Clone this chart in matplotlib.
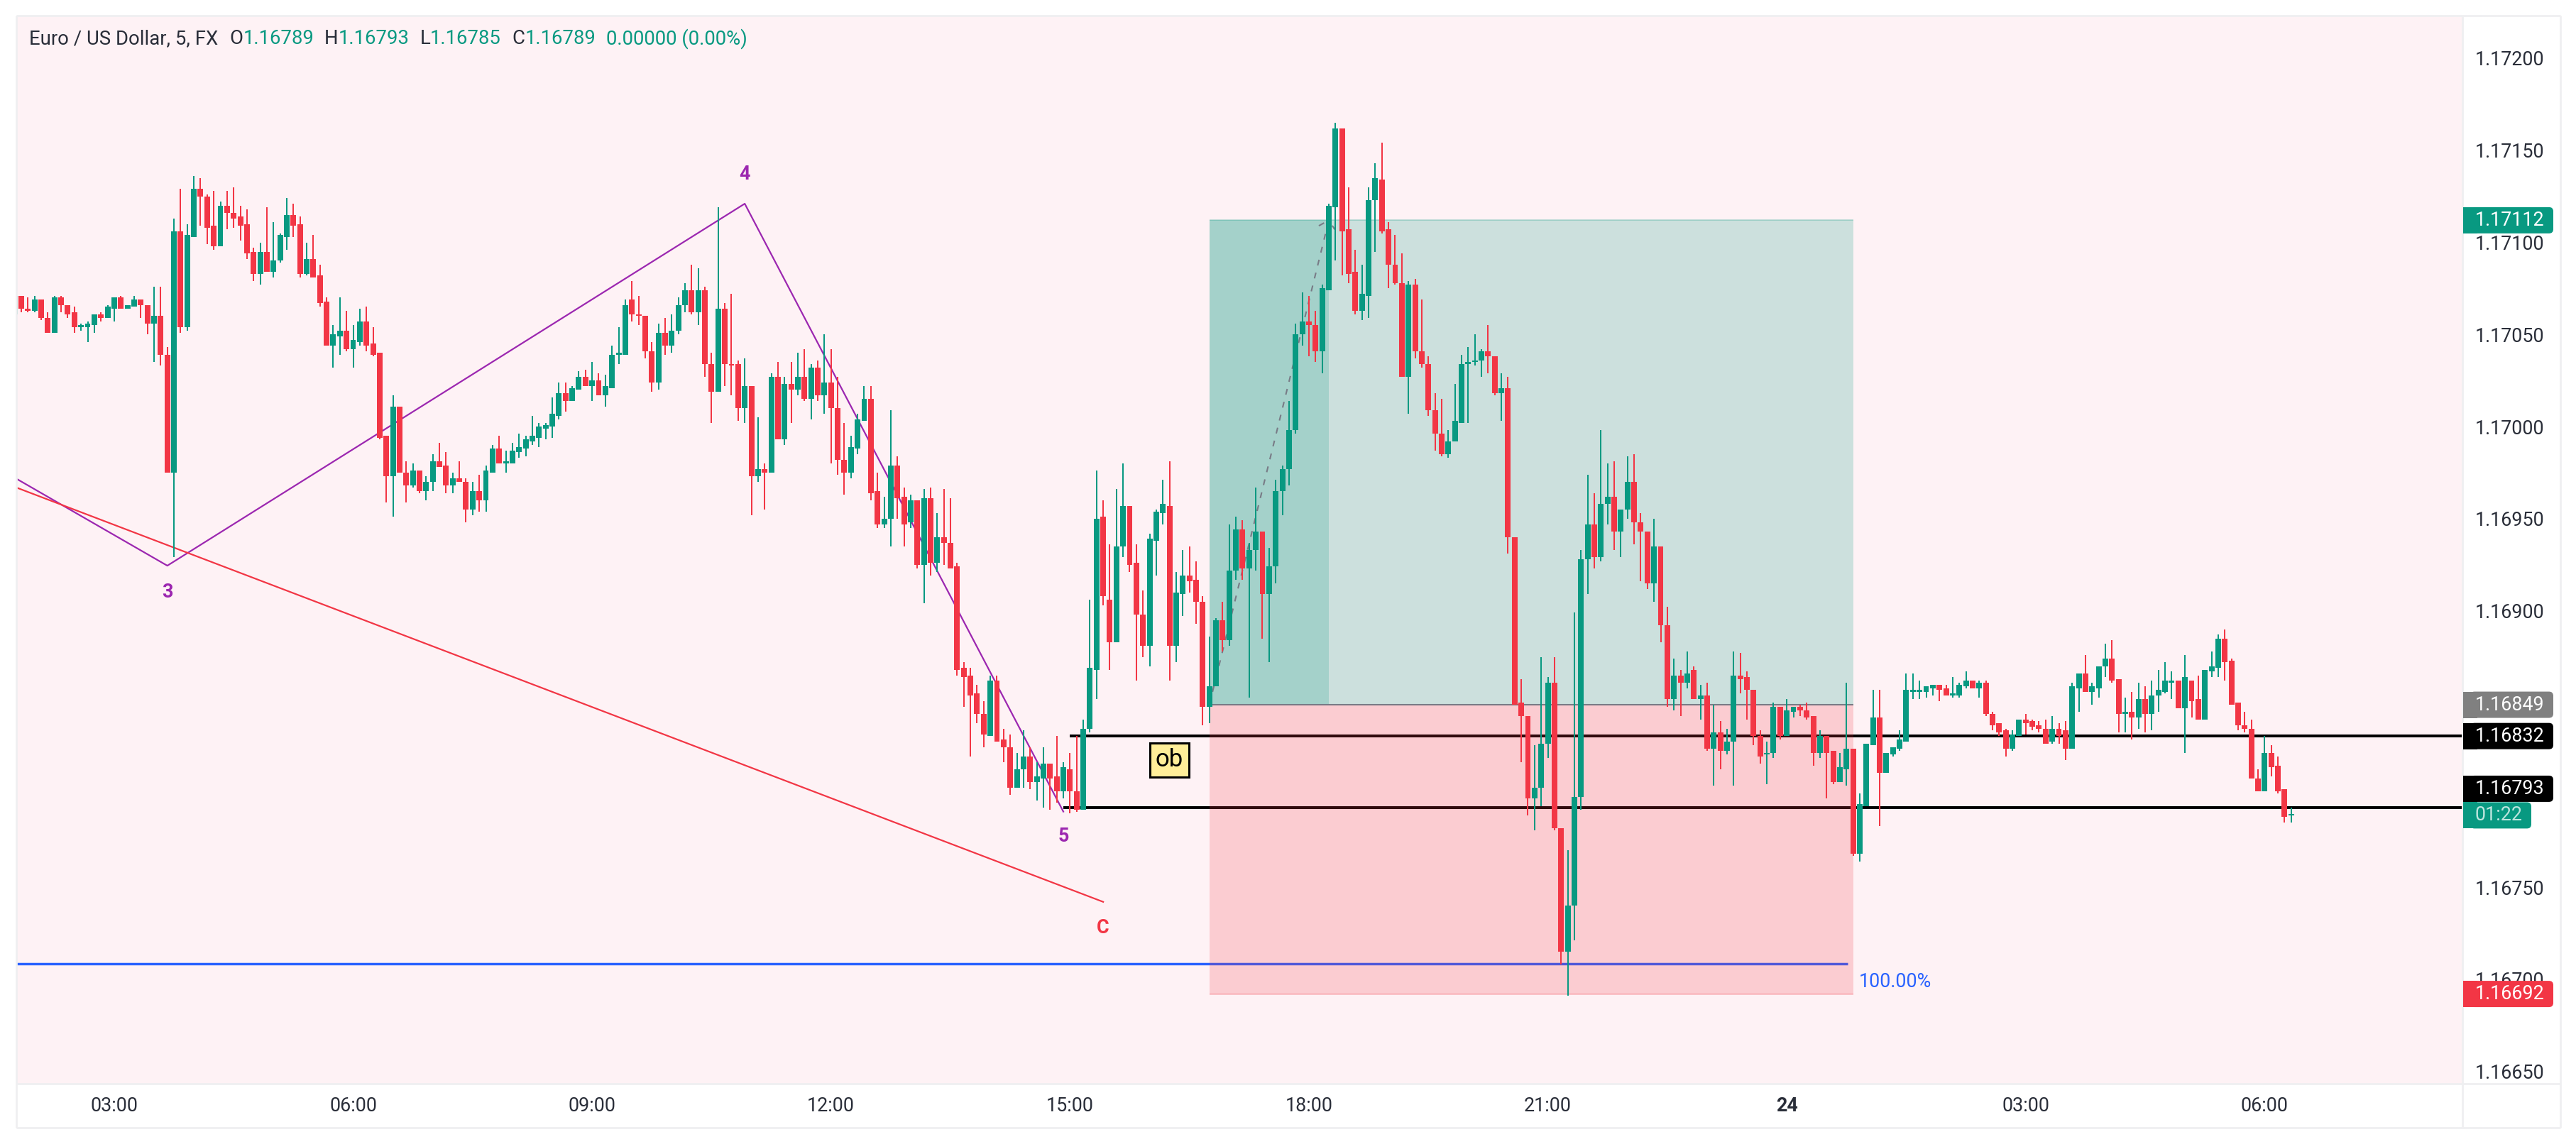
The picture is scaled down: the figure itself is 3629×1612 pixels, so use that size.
"""EUR/USD 5 minute candles with position tool and wave drawings."""

import matplotlib
matplotlib.use("Agg")
import matplotlib.pyplot as plt
import numpy as np
from matplotlib.patches import FancyBboxPatch, Rectangle

plt.rcParams["font.family"] = ["Roboto", "DejaVu Sans"]

# prices are stored as 1e-5 steps above 1.16000, so 1071 means 1.17071
opens = [
    1061, 1071, 1064, 1063, 1069, 1059, 1051, 1070, 1066, 1062,
    1054, 1054, 1055, 1061, 1059, 1064, 1070, 1064, 1065, 1069,
    1066, 1056, 1060, 1039, 975, 1106, 1054, 1103, 1129, 1125,
    1109, 1098, 1120, 1116, 1114, 1110, 1095, 1083, 1095, 1084,
    1090, 1103, 1115, 1110, 1083, 1091, 1082, 1068, 1044, 1049,
    1052, 1042, 1046, 1057, 1045, 1040, 995, 973, 1011, 975,
    968, 976, 965, 970, 981, 979, 968, 972, 970, 955,
    965, 960, 975, 988, 980, 980, 986, 988, 992, 994,
    999, 1000, 1006, 1018, 1014, 1020, 1027, 1022, 1025, 1017,
    1021, 1039, 1039, 1069, 1061, 1060, 1041, 1024, 1051, 1044,
    1052, 1066, 1074, 1062, 1074, 1034, 1019, 1064, 1034, 1034,
    1010, 1022, 973, 977, 975, 1027, 993, 1023, 1020, 1027,
    1015, 1032, 1017, 1024, 1010, 982, 975, 988, 1003, 1015,
    965, 947, 950, 979, 962, 948, 960, 925, 961, 926,
    940, 937, 924, 869, 865, 855, 844, 832, 862, 830,
    826, 804, 814, 821, 807, 809, 817, 810, 802, 814,
    802, 792, 836, 868, 951, 906, 883, 935, 957, 926,
    898, 881, 938, 953, 957, 881, 909, 919, 917, 905,
    848, 859, 895, 884, 922, 944, 923, 933, 943, 909,
    924, 965, 977, 998, 1050, 1057, 1055, 1041, 1074, 1119,
    1162, 1107, 1084, 1063, 1071, 1123, 1134, 1107, 1088, 1078,
    1027, 1077, 1041, 1034, 1009, 996, 985, 992, 1002, 1034,
    1035, 1036, 1041, 1038, 1018, 1021, 940, 850, 843, 798,
    804, 828, 861, 782, 715, 740, 799, 928, 947, 929,
    958, 962, 943, 955, 970, 948, 943, 915, 935, 892,
    852, 865, 861, 868, 852, 854, 825, 834, 824, 829,
    865, 864, 857, 832, 822, 823, 848, 832, 845, 848,
    846, 843, 823, 832, 824, 807, 814, 825, 768, 794,
    827, 842, 812, 822, 825, 829, 856, 856, 856, 858,
    860, 858, 854, 854, 859, 862, 858, 861, 844, 839,
    835, 825, 832, 841, 840, 838, 836, 829, 836, 835,
    825, 858, 866, 856, 858, 870, 874, 863, 844, 845,
    842, 852, 844, 854, 856, 861, 862, 847, 862, 852,
    841, 867, 869, 885, 873, 850, 838, 836, 809, 802,
    823, 816, 803, 789,
]
highs = [
    1071, 1071, 1070, 1071, 1069, 1062, 1071, 1071, 1066, 1065,
    1056, 1057, 1061, 1062, 1066, 1070, 1071, 1066, 1071, 1069,
    1066, 1076, 1076, 1043, 1113, 1129, 1110, 1136, 1135, 1126,
    1128, 1122, 1128, 1130, 1120, 1118, 1097, 1100, 1119, 1111,
    1105, 1124, 1121, 1114, 1100, 1104, 1088, 1070, 1055, 1070,
    1063, 1055, 1064, 1065, 1054, 1040, 995, 1017, 1011, 981,
    980, 976, 973, 985, 991, 986, 975, 981, 972, 970,
    974, 979, 990, 995, 987, 991, 996, 995, 1006, 1002,
    1002, 1016, 1024, 1024, 1022, 1030, 1031, 1035, 1029, 1028,
    1044, 1054, 1069, 1079, 1071, 1060, 1046, 1056, 1059, 1061,
    1070, 1078, 1088, 1086, 1076, 1040, 1119, 1067, 1072, 1036,
    1037, 1022, 1005, 980, 1029, 1035, 1027, 1035, 1040, 1042,
    1034, 1036, 1050, 1042, 1027, 1002, 995, 1007, 1022, 1022,
    975, 962, 1009, 984, 967, 963, 960, 966, 967, 953,
    966, 961, 926, 872, 869, 860, 851, 865, 865, 836,
    833, 823, 835, 826, 818, 826, 817, 832, 818, 823,
    832, 841, 906, 976, 960, 936, 966, 980, 957, 936,
    911, 942, 955, 971, 981, 921, 933, 935, 927, 908,
    886, 896, 905, 947, 951, 949, 937, 967, 943, 934,
    971, 979, 1014, 1056, 1073, 1071, 1063, 1077, 1121, 1165,
    1162, 1130, 1096, 1088, 1130, 1143, 1154, 1111, 1104, 1094,
    1079, 1080, 1069, 1038, 1018, 1015, 998, 1023, 1039, 1043,
    1050, 1042, 1055, 1038, 1029, 1027, 940, 863, 843, 827,
    875, 864, 875, 782, 770, 899, 933, 974, 964, 998,
    980, 981, 955, 984, 985, 953, 943, 950, 935, 902,
    874, 868, 878, 870, 860, 861, 849, 840, 836, 878,
    877, 867, 857, 835, 829, 850, 848, 852, 848, 849,
    850, 843, 835, 832, 824, 823, 861, 825, 801, 828,
    857, 857, 823, 826, 835, 866, 866, 862, 859, 860,
    860, 860, 864, 861, 867, 862, 862, 862, 845, 839,
    836, 835, 841, 844, 841, 840, 841, 843, 839, 840,
    861, 866, 876, 861, 870, 882, 884, 863, 853, 856,
    861, 859, 862, 868, 872, 867, 862, 876, 862, 865,
    868, 878, 887, 890, 874, 850, 845, 841, 814, 832,
    827, 821, 803, 793,
]
lows = [
    1061, 1062, 1062, 1062, 1058, 1051, 1051, 1062, 1059, 1051,
    1052, 1046, 1051, 1057, 1059, 1057, 1064, 1064, 1065, 1059,
    1050, 1035, 1033, 975, 929, 1051, 1052, 1103, 1109, 1099,
    1096, 1098, 1107, 1108, 1101, 1091, 1079, 1077, 1084, 1081,
    1089, 1096, 1103, 1081, 1082, 1081, 1065, 1044, 1032, 1039,
    1041, 1032, 1044, 1041, 1038, 993, 959, 951, 975, 959,
    967, 964, 960, 965, 978, 964, 964, 970, 948, 952,
    954, 954, 975, 980, 975, 980, 983, 984, 990, 989,
    993, 994, 1004, 1008, 1014, 1020, 1022, 1014, 1017, 1011,
    1021, 1034, 1039, 1057, 1055, 1037, 1019, 1020, 1039, 1040,
    1050, 1062, 1061, 1055, 1027, 1002, 1019, 1022, 1017, 1003,
    1002, 952, 970, 955, 975, 993, 990, 1002, 1017, 1014,
    1004, 1014, 1007, 980, 974, 963, 972, 985, 1003, 960,
    945, 945, 935, 950, 935, 945, 923, 904, 919, 921,
    925, 923, 865, 848, 821, 839, 826, 832, 829, 818,
    800, 804, 804, 803, 797, 793, 792, 796, 798, 790,
    791, 792, 834, 852, 903, 868, 883, 929, 921, 862,
    875, 870, 919, 947, 862, 872, 897, 910, 893, 838,
    839, 859, 878, 881, 917, 917, 853, 922, 885, 872,
    915, 952, 968, 996, 1044, 1038, 1035, 1029, 1074, 1090,
    1082, 1078, 1061, 1058, 1059, 1095, 1105, 1075, 1077, 1027,
    1007, 1037, 1032, 1006, 987, 984, 983, 992, 1002, 1002,
    1033, 1027, 1029, 1017, 1003, 931, 849, 818, 789, 781,
    794, 820, 781, 708, 691, 721, 792, 909, 923, 927,
    947, 933, 929, 950, 936, 916, 912, 905, 883, 848,
    846, 843, 858, 852, 841, 824, 805, 814, 822, 805,
    855, 841, 827, 817, 806, 820, 830, 832, 842, 843,
    841, 816, 820, 798, 806, 807, 805, 767, 764, 794,
    827, 783, 812, 821, 824, 829, 852, 852, 853, 854,
    851, 854, 853, 853, 858, 858, 853, 843, 835, 832,
    821, 824, 832, 833, 835, 834, 828, 828, 828, 819,
    825, 845, 856, 849, 853, 864, 861, 834, 834, 830,
    836, 834, 835, 845, 855, 852, 847, 823, 842, 841,
    841, 864, 864, 862, 849, 835, 834, 809, 802, 802,
    810, 801, 785, 785,
]
closes = [
    1071, 1064, 1063, 1069, 1059, 1051, 1070, 1066, 1061, 1054,
    1055, 1056, 1061, 1059, 1065, 1070, 1064, 1066, 1069, 1066,
    1056, 1060, 1039, 975, 1106, 1054, 1104, 1129, 1125, 1108,
    1098, 1120, 1116, 1113, 1109, 1094, 1083, 1095, 1084, 1090,
    1104, 1115, 1109, 1083, 1091, 1081, 1067, 1044, 1050, 1052,
    1042, 1047, 1057, 1044, 1039, 994, 973, 1011, 975, 968,
    976, 965, 970, 981, 978, 968, 972, 970, 955, 965,
    960, 976, 988, 980, 981, 987, 989, 993, 995, 1000,
    1001, 1007, 1018, 1014, 1021, 1027, 1022, 1025, 1017, 1022,
    1039, 1040, 1066, 1061, 1060, 1041, 1024, 1051, 1044, 1052,
    1066, 1074, 1062, 1074, 1034, 1019, 1064, 1034, 1033, 1010,
    1022, 973, 977, 975, 1027, 993, 1023, 1020, 1027, 1015,
    1032, 1017, 1024, 1010, 982, 975, 989, 1004, 1015, 964,
    947, 950, 979, 961, 947, 960, 925, 961, 926, 940,
    937, 923, 868, 864, 854, 844, 833, 862, 829, 826,
    804, 814, 821, 807, 810, 817, 809, 802, 815, 802,
    792, 836, 869, 950, 908, 883, 935, 957, 925, 898,
    881, 939, 954, 958, 881, 910, 919, 916, 905, 848,
    859, 895, 884, 922, 944, 923, 933, 943, 909, 924,
    965, 977, 998, 1050, 1057, 1055, 1041, 1075, 1120, 1162,
    1106, 1083, 1063, 1072, 1123, 1135, 1106, 1088, 1078, 1027,
    1077, 1041, 1034, 1009, 996, 985, 992, 1003, 1034, 1035,
    1036, 1041, 1038, 1018, 1021, 940, 849, 843, 798, 804,
    828, 861, 782, 715, 740, 799, 928, 947, 929, 958,
    962, 943, 955, 970, 948, 943, 915, 935, 892, 852,
    865, 861, 866, 852, 854, 825, 834, 824, 829, 865,
    863, 857, 832, 821, 823, 848, 832, 846, 848, 846,
    842, 823, 832, 823, 807, 815, 825, 768, 795, 828,
    842, 812, 823, 826, 830, 857, 857, 857, 859, 860,
    857, 854, 855, 860, 862, 858, 861, 844, 838, 834,
    825, 833, 841, 839, 837, 836, 828, 836, 832, 825,
    859, 866, 856, 859, 870, 874, 862, 844, 845, 842,
    852, 844, 854, 857, 862, 862, 847, 864, 851, 841,
    868, 870, 885, 872, 849, 838, 836, 809, 802, 823,
    815, 802, 788, 789,
]

tick_bars = [15, 51, 87, 123, 159, 195, 231, 267, 303, 339]
tick_names = ["03:00", "06:00", "09:00", "12:00", "15:00", "18:00", "21:00", "24", "03:00", "06:00"]
# 1.16850 and 1.16800 are hidden behind price tags in the original, so they are left out
price_ticks = [1.172, 1.1715, 1.171, 1.1705, 1.17, 1.1695, 1.169, 1.1675, 1.167, 1.1665]

# drawings: bar index / price pairs
wave_bars = [-10, 23, 110, 158]
wave_prices = [1.16993, 1.169245, 1.17121, 1.16791]
corr_bars = [-10, 164]
corr_prices = [1.16981, 1.16742]
wave_labels = [("3", 23, 1.16910), ("4", 110, 1.17137), ("5", 158, 1.167775)]
corr_label = ("C", 164, 1.16728)

target_price = 1.17112
entry_price = 1.16849
stop_price = 1.16692
position_bars = (180, 277)
position_now = 198
level_upper = 1.16832
level_lower = 1.16793
level_upper_start = 159
level_lower_start = 158
fib_price = 1.167085
fib_end = 276.2

GREEN = "#089981"
RED = "#F23645"
PURPLE = "#9C27B0"
BLUE = "#2962FF"
PANEL = "#FEF2F5"
FRAME = "#EFEFF1"
TEXT = "#2A2E39"
FONT_SIZE = 19.4
HEADER_SIZE = 19.8


def to_price(values):
    return 1.16 + np.array(values) / 1e5


W, H = 3630, 1612
fig = plt.figure(figsize=(W / 100, H / 100), dpi=100, facecolor="white")
left, right, top, bottom = 23, 3469, 22, 1527
ax = fig.add_axes([left / W, 1 - bottom / H, (right - left) / W, (bottom - top) / H])
ax.set_facecolor(PANEL)
ax.set_xlim(0.25, 368.8)
ax.set_ylim(1.166433, 1.172231)
for spine in ax.spines.values():
    spine.set_visible(False)

o, h, l, c = map(to_price, (opens, highs, lows, closes))
bars = np.arange(len(o))
colors = np.where(c >= o, GREEN, RED)

ax.vlines(bars, l, h, colors=colors, linewidth=1.45, zorder=4)
body_low = np.minimum(o, c)
body_size = np.maximum(np.abs(c - o), 0.000008)
ax.bar(bars, body_size, bottom=body_low, width=0.85, color=colors, linewidth=0, zorder=4.1)

# levels sit under the translucent position boxes
ax.hlines(level_upper, level_upper_start, 400, color="black", linewidth=2.9, zorder=1)
ax.hlines(level_lower, level_lower_start, 400, color="black", linewidth=2.9, zorder=1)
ax.hlines(fib_price, -10, fib_end, color=BLUE, linewidth=2.5, zorder=1)

b0, b1 = position_bars
ax.add_patch(Rectangle((b0, entry_price), b1 - b0, target_price - entry_price,
                       facecolor=GREEN, alpha=0.2, linewidth=0, zorder=2))
ax.add_patch(Rectangle((b0, entry_price), position_now - b0, target_price - entry_price,
                       facecolor=GREEN, alpha=0.2, linewidth=0, zorder=2))
ax.add_patch(Rectangle((b0, stop_price), b1 - b0, entry_price - stop_price,
                       facecolor=RED, alpha=0.2, linewidth=0, zorder=2))
ax.hlines(target_price, b0, b1, color=GREEN, alpha=0.25, linewidth=1.4, zorder=2)
ax.hlines(entry_price, b0, b1, color="#787B86", linewidth=1.5, zorder=2.1)
ax.hlines(stop_price, b0, b1, color=RED, alpha=0.25, linewidth=1.4, zorder=2)

ax.plot([b0, position_now], [entry_price, target_price], color="#787B86", linewidth=1.5,
        dashes=(4, 5), zorder=3)
ax.plot([196.5, position_now, 198.9], [1.17109, target_price, 1.17107], color="#787B86",
        linewidth=1.5, dashes=(4, 2), zorder=3)

ax.plot(wave_bars, wave_prices, color=PURPLE, linewidth=1.6, zorder=3)
ax.plot(corr_bars, corr_prices, color=RED, linewidth=1.6, zorder=3)
for name, bar, price in wave_labels:
    ax.text(bar, price, name, color=PURPLE, fontsize=FONT_SIZE, fontweight="bold",
            ha="center", va="center", zorder=5)
ax.text(corr_label[1], corr_label[2], corr_label[0], color=RED, fontsize=FONT_SIZE,
        fontweight="bold", ha="center", va="center", zorder=5)

ax.text(174, 1.16819, "ob", color="black", fontsize=25, ha="center", va="center", zorder=5,
        bbox=dict(boxstyle="square,pad=0.22", facecolor="#FFEE99", edgecolor="black", linewidth=2.2))
ax.text(277.9, 1.166985, "100.00%", color=BLUE, fontsize=FONT_SIZE, ha="left", va="center", zorder=5)

ax.yaxis.tick_right()
ax.set_yticks(price_ticks)
ax.set_yticklabels([f"{p:.5f}" for p in price_ticks])
ax.tick_params(axis="y", length=0, pad=12.7, labelsize=FONT_SIZE, labelcolor=TEXT)
ax.set_xticks(tick_bars)
ax.set_xticklabels(tick_names)
ax.tick_params(axis="x", length=0, pad=13, labelsize=FONT_SIZE, labelcolor=TEXT)
ax.get_xticklabels()[7].set_fontweight("bold")

# overlay in image pixels for the frame, the legend line and the price tags
ov = fig.add_axes([0, 0, 1, 1], facecolor="none", zorder=10)
ov.set_xlim(0, W)
ov.set_ylim(H, 0)
ov.axis("off")

for xs, ys in [((23, 3607), (22, 22)), ((23, 3607), (1527, 1527)), ((23, 3607), (1589, 1589)),
               ((23, 23), (22, 1589)), ((3469, 3469), (22, 1589)), ((3607, 3607), (22, 1589))]:
    ov.plot(xs, ys, color=FRAME, linewidth=2.0, solid_capstyle="butt")


def price_y(price):
    return H - ax.transData.transform((0, price))[1]


def tag(text, price, color, text_color="white", shift=0, x1=3597):
    y = price_y(price) + shift
    ov.add_patch(FancyBboxPatch((3480, y - 18.5), x1 - 3480, 37, boxstyle="round,pad=0,rounding_size=6",
                                facecolor=color, linewidth=0, zorder=3))
    ov.add_patch(Rectangle((3470, y - 18.5), 20, 37, facecolor=color, linewidth=0, zorder=3))
    ov.text(3486.6, y, text, color=text_color, fontsize=FONT_SIZE, va="center", ha="left", zorder=4)


tag("1.17112", target_price, GREEN)
tag("1.16849", entry_price, "#808080")
tag("1.16832", level_upper, "black")
tag("1.16793", level_lower, "black", shift=-27)
tag("01:22", level_lower, GREEN, text_color="#BDE5DE", shift=10.5, x1=3566)
tag("1.16692", stop_price, RED)

header_y = 54.6
header = [
    (41.5, "Euro / US Dollar, 5, FX", TEXT), (323, "O", TEXT), (342.5, "1.16789", GREEN),
    (457, "H", TEXT), (477, "1.16793", GREEN), (592, "L", TEXT), (606, "1.16785", GREEN),
    (721, "C", TEXT), (740, "1.16789", GREEN), (854, "0.00000 (0.00%)", GREEN),
]
for x, text, color in header:
    ov.text(x, header_y, text, color=color, fontsize=HEADER_SIZE, va="center", ha="left")

fig.savefig("out.png", dpi=100, facecolor="white")
